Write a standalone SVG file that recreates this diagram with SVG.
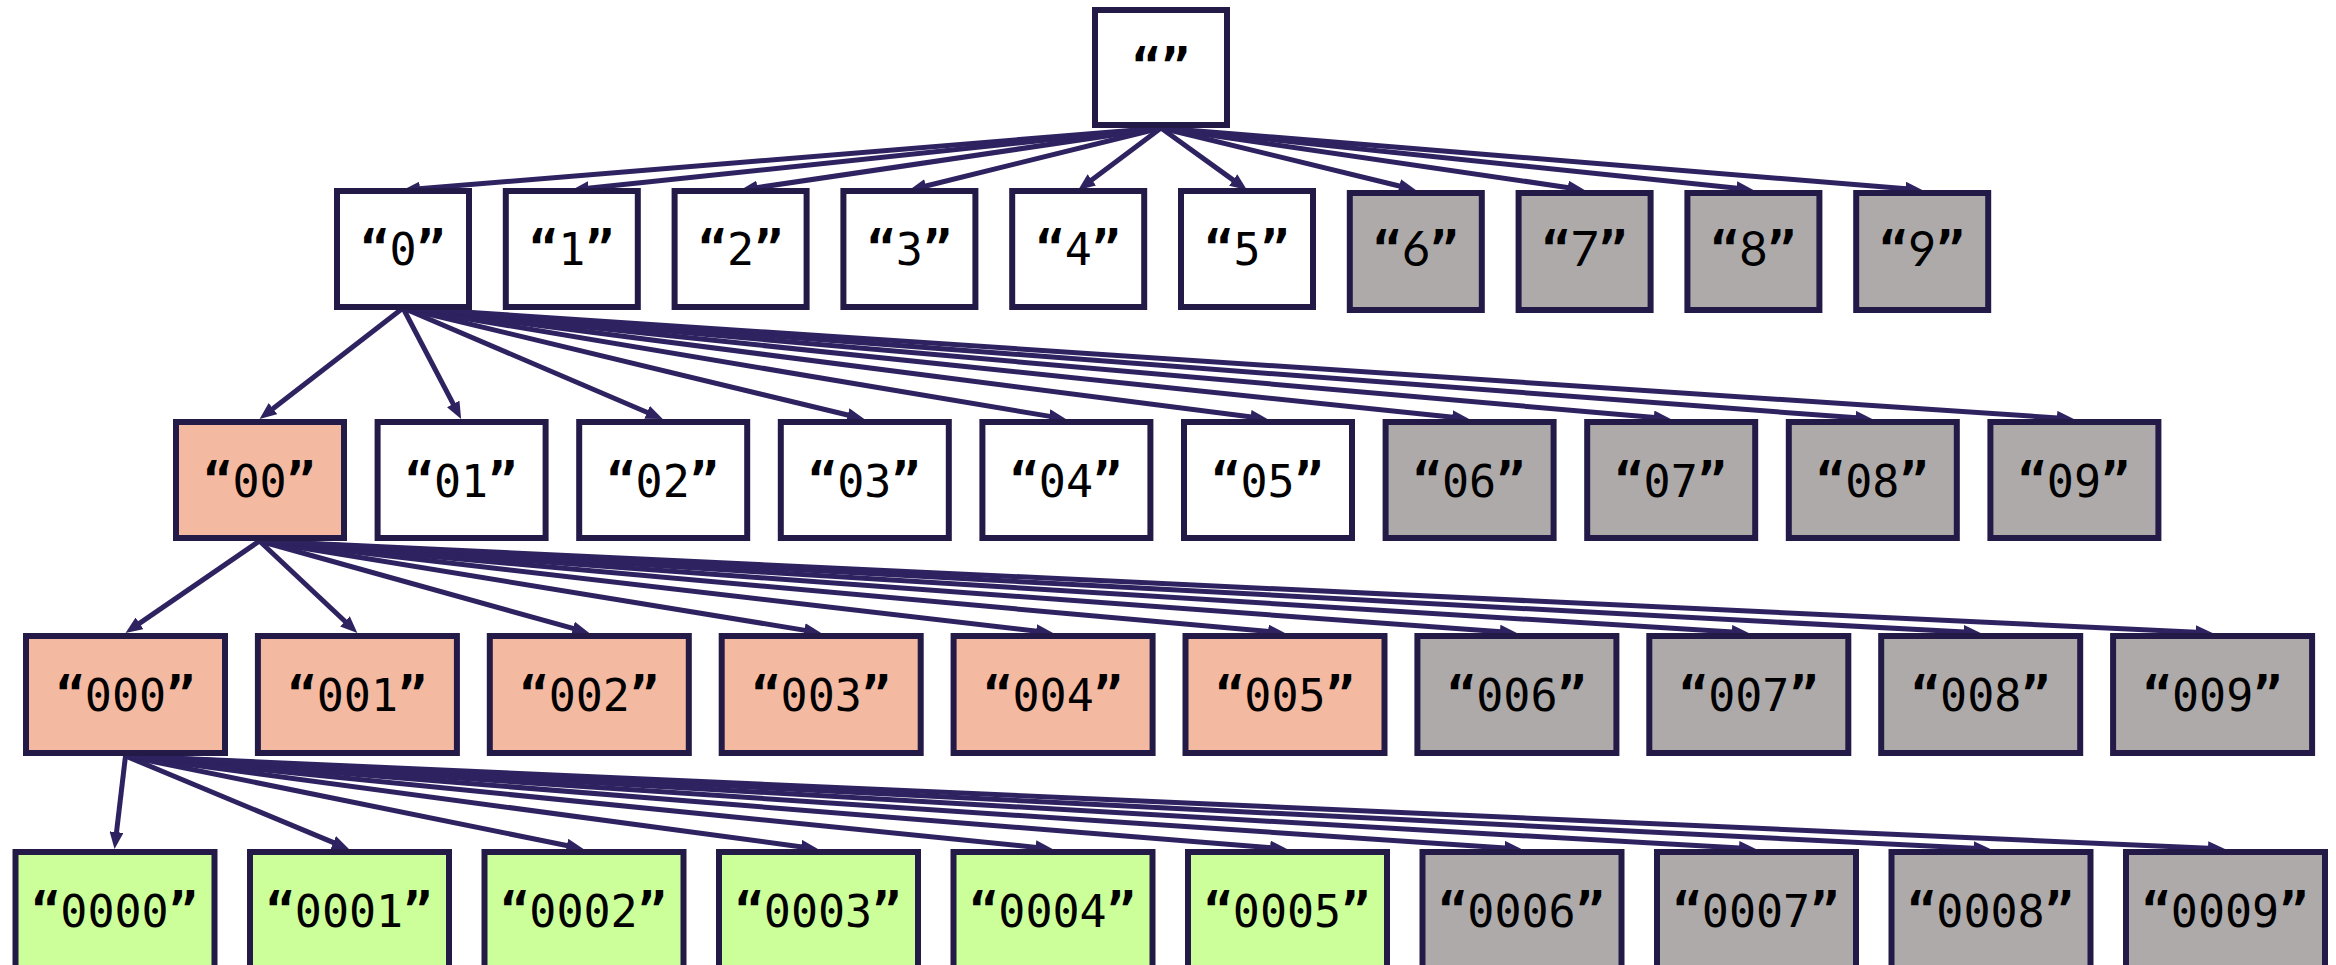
<svg xmlns="http://www.w3.org/2000/svg" width="2336" height="965" viewBox="0 0 2336 965">
<style>
.n{stroke:#231A47;stroke-width:6}
.w{fill:#FFFFFF}.s{fill:#F4B9A1}.g{fill:#AEAAAA}.v{fill:#CCFF99}
text{font-family:"DejaVu Sans Mono","Liberation Mono",monospace;font-size:45px;fill:#000;text-anchor:middle}
text.p{font-family:Lato,"Open Sans","Liberation Sans",sans-serif;font-size:48px}
tspan.q{font-family:"DejaVu Sans Mono","Liberation Mono",monospace;font-weight:700;font-size:48px}
#edges line{stroke:#2E2360;stroke-width:5;marker-end:url(#ah)}
</style>
<defs>
<marker id="ah" viewBox="0 0 17 14" refX="1" refY="7" markerWidth="17" markerHeight="14" markerUnits="userSpaceOnUse" orient="auto">
<path d="M0,0 L17,7 L0,14 z" fill="#2E2360"/>
</marker>
</defs>
<rect width="2336" height="965" fill="#FFFFFF"/>
<g id="edges">
<line x1="1161" y1="128" x2="418.9" y2="188.7"/>
<line x1="1161" y1="128" x2="587.7" y2="188.3"/>
<line x1="1161" y1="128" x2="756.4" y2="187.7"/>
<line x1="1161" y1="128" x2="924.9" y2="186.2"/>
<line x1="1161" y1="128" x2="1091.0" y2="180.4"/>
<line x1="1161" y1="128" x2="1234.0" y2="180.6"/>
<line x1="1161" y1="128" x2="1400.3" y2="186.2"/>
<line x1="1161" y1="128" x2="1568.8" y2="187.7"/>
<line x1="1161" y1="128" x2="1737.5" y2="188.3"/>
<line x1="1161" y1="128" x2="1906.3" y2="188.7"/>
<line x1="403" y1="308" x2="272.2" y2="409.2"/>
<line x1="403" y1="308" x2="453.7" y2="404.8"/>
<line x1="403" y1="308" x2="648.0" y2="412.7"/>
<line x1="403" y1="308" x2="848.7" y2="415.3"/>
<line x1="403" y1="308" x2="1050.1" y2="416.4"/>
<line x1="403" y1="308" x2="1251.6" y2="417.0"/>
<line x1="403" y1="308" x2="1453.2" y2="417.3"/>
<line x1="403" y1="308" x2="1654.8" y2="417.6"/>
<line x1="403" y1="308" x2="1856.3" y2="417.8"/>
<line x1="403" y1="308" x2="2057.9" y2="417.9"/>
<line x1="259.5" y1="541" x2="138.7" y2="623.9"/>
<line x1="259.5" y1="541" x2="345.7" y2="622.0"/>
<line x1="259.5" y1="541" x2="573.9" y2="628.7"/>
<line x1="259.5" y1="541" x2="805.4" y2="630.4"/>
<line x1="259.5" y1="541" x2="1037.2" y2="631.2"/>
<line x1="259.5" y1="541" x2="1269.1" y2="631.6"/>
<line x1="259.5" y1="541" x2="1500.9" y2="631.8"/>
<line x1="259.5" y1="541" x2="1732.8" y2="632.0"/>
<line x1="259.5" y1="541" x2="1964.7" y2="632.1"/>
<line x1="259.5" y1="541" x2="2196.6" y2="632.2"/>
<line x1="125.5" y1="756" x2="116.4" y2="833.1"/>
<line x1="125.5" y1="756" x2="334.2" y2="842.9"/>
<line x1="125.5" y1="756" x2="567.8" y2="845.8"/>
<line x1="125.5" y1="756" x2="802.1" y2="846.9"/>
<line x1="125.5" y1="756" x2="1036.6" y2="847.4"/>
<line x1="125.5" y1="756" x2="1271.1" y2="847.7"/>
<line x1="125.5" y1="756" x2="1505.5" y2="847.9"/>
<line x1="125.5" y1="756" x2="1740.0" y2="848.1"/>
<line x1="125.5" y1="756" x2="1974.5" y2="848.2"/>
<line x1="125.5" y1="756" x2="2209.0" y2="848.3"/>
</g>
<g id="n-root"><rect class="n w" x="1095" y="10" width="132" height="115"/><text x="1161" y="83"><tspan class="q">“”</tspan></text></g>
<g id="n-0"><rect class="n w" x="337" y="191" width="132" height="116"/><text x="403" y="265"><tspan class="q">“</tspan>0<tspan class="q">”</tspan></text></g>
<g id="n-1"><rect class="n w" x="505.8" y="191" width="132" height="116"/><text x="571.8" y="265"><tspan class="q">“</tspan>1<tspan class="q">”</tspan></text></g>
<g id="n-2"><rect class="n w" x="674.6" y="191" width="132" height="116"/><text x="740.6" y="265"><tspan class="q">“</tspan>2<tspan class="q">”</tspan></text></g>
<g id="n-3"><rect class="n w" x="843.4" y="191" width="132" height="116"/><text x="909.4" y="265"><tspan class="q">“</tspan>3<tspan class="q">”</tspan></text></g>
<g id="n-4"><rect class="n w" x="1012.2" y="191" width="132" height="116"/><text x="1078.2" y="265"><tspan class="q">“</tspan>4<tspan class="q">”</tspan></text></g>
<g id="n-5"><rect class="n w" x="1181" y="191" width="132" height="116"/><text x="1247" y="265"><tspan class="q">“</tspan>5<tspan class="q">”</tspan></text></g>
<g id="n-6"><rect class="n g" x="1349.8" y="193" width="132" height="117"/><text class="p" x="1415.8" y="266"><tspan class="q">“</tspan>6<tspan class="q">”</tspan></text></g>
<g id="n-7"><rect class="n g" x="1518.6" y="193" width="132" height="117"/><text class="p" x="1584.6" y="266"><tspan class="q">“</tspan>7<tspan class="q">”</tspan></text></g>
<g id="n-8"><rect class="n g" x="1687.4" y="193" width="132" height="117"/><text class="p" x="1753.4" y="266"><tspan class="q">“</tspan>8<tspan class="q">”</tspan></text></g>
<g id="n-9"><rect class="n g" x="1856.2" y="193" width="132" height="117"/><text class="p" x="1922.2" y="266"><tspan class="q">“</tspan>9<tspan class="q">”</tspan></text></g>
<g id="n-00"><rect class="n s" x="176" y="422" width="168" height="116"/><text x="259.5" y="497"><tspan class="q">“</tspan>00<tspan class="q">”</tspan></text></g>
<g id="n-01"><rect class="n w" x="377.6" y="422" width="168" height="116"/><text x="461.1" y="497"><tspan class="q">“</tspan>01<tspan class="q">”</tspan></text></g>
<g id="n-02"><rect class="n w" x="579.2" y="422" width="168" height="116"/><text x="662.7" y="497"><tspan class="q">“</tspan>02<tspan class="q">”</tspan></text></g>
<g id="n-03"><rect class="n w" x="780.8" y="422" width="168" height="116"/><text x="864.3" y="497"><tspan class="q">“</tspan>03<tspan class="q">”</tspan></text></g>
<g id="n-04"><rect class="n w" x="982.4" y="422" width="168" height="116"/><text x="1065.9" y="497"><tspan class="q">“</tspan>04<tspan class="q">”</tspan></text></g>
<g id="n-05"><rect class="n w" x="1184" y="422" width="168" height="116"/><text x="1267.5" y="497"><tspan class="q">“</tspan>05<tspan class="q">”</tspan></text></g>
<g id="n-06"><rect class="n g" x="1385.6" y="422" width="168" height="116"/><text x="1469.1" y="497"><tspan class="q">“</tspan>06<tspan class="q">”</tspan></text></g>
<g id="n-07"><rect class="n g" x="1587.2" y="422" width="168" height="116"/><text x="1670.7" y="497"><tspan class="q">“</tspan>07<tspan class="q">”</tspan></text></g>
<g id="n-08"><rect class="n g" x="1788.8" y="422" width="168" height="116"/><text x="1872.3" y="497"><tspan class="q">“</tspan>08<tspan class="q">”</tspan></text></g>
<g id="n-09"><rect class="n g" x="1990.4" y="422" width="168" height="116"/><text x="2073.9" y="497"><tspan class="q">“</tspan>09<tspan class="q">”</tspan></text></g>
<g id="n-000"><rect class="n s" x="26" y="636" width="199" height="117"/><text x="125.5" y="711"><tspan class="q">“</tspan>000<tspan class="q">”</tspan></text></g>
<g id="n-001"><rect class="n s" x="257.9" y="636" width="199" height="117"/><text x="357.4" y="711"><tspan class="q">“</tspan>001<tspan class="q">”</tspan></text></g>
<g id="n-002"><rect class="n s" x="489.8" y="636" width="199" height="117"/><text x="589.3" y="711"><tspan class="q">“</tspan>002<tspan class="q">”</tspan></text></g>
<g id="n-003"><rect class="n s" x="721.7" y="636" width="199" height="117"/><text x="821.2" y="711"><tspan class="q">“</tspan>003<tspan class="q">”</tspan></text></g>
<g id="n-004"><rect class="n s" x="953.6" y="636" width="199" height="117"/><text x="1053.1" y="711"><tspan class="q">“</tspan>004<tspan class="q">”</tspan></text></g>
<g id="n-005"><rect class="n s" x="1185.5" y="636" width="199" height="117"/><text x="1285" y="711"><tspan class="q">“</tspan>005<tspan class="q">”</tspan></text></g>
<g id="n-006"><rect class="n g" x="1417.4" y="636" width="199" height="117"/><text x="1516.9" y="711"><tspan class="q">“</tspan>006<tspan class="q">”</tspan></text></g>
<g id="n-007"><rect class="n g" x="1649.3" y="636" width="199" height="117"/><text x="1748.8" y="711"><tspan class="q">“</tspan>007<tspan class="q">”</tspan></text></g>
<g id="n-008"><rect class="n g" x="1881.2" y="636" width="199" height="117"/><text x="1980.7" y="711"><tspan class="q">“</tspan>008<tspan class="q">”</tspan></text></g>
<g id="n-009"><rect class="n g" x="2113.1" y="636" width="199" height="117"/><text x="2212.6" y="711"><tspan class="q">“</tspan>009<tspan class="q">”</tspan></text></g>
<g id="n-0000"><rect class="n v" x="15.5" y="852" width="199" height="140"/><text x="114.5" y="927"><tspan class="q">“</tspan>0000<tspan class="q">”</tspan></text></g>
<g id="n-0001"><rect class="n v" x="250" y="852" width="199" height="140"/><text x="349" y="927"><tspan class="q">“</tspan>0001<tspan class="q">”</tspan></text></g>
<g id="n-0002"><rect class="n v" x="484.5" y="852" width="199" height="140"/><text x="583.5" y="927"><tspan class="q">“</tspan>0002<tspan class="q">”</tspan></text></g>
<g id="n-0003"><rect class="n v" x="719" y="852" width="199" height="140"/><text x="818" y="927"><tspan class="q">“</tspan>0003<tspan class="q">”</tspan></text></g>
<g id="n-0004"><rect class="n v" x="953.5" y="852" width="199" height="140"/><text x="1052.5" y="927"><tspan class="q">“</tspan>0004<tspan class="q">”</tspan></text></g>
<g id="n-0005"><rect class="n v" x="1188" y="852" width="199" height="140"/><text x="1287" y="927"><tspan class="q">“</tspan>0005<tspan class="q">”</tspan></text></g>
<g id="n-0006"><rect class="n g" x="1422.5" y="852" width="199" height="140"/><text x="1521.5" y="927"><tspan class="q">“</tspan>0006<tspan class="q">”</tspan></text></g>
<g id="n-0007"><rect class="n g" x="1657" y="852" width="199" height="140"/><text x="1756" y="927"><tspan class="q">“</tspan>0007<tspan class="q">”</tspan></text></g>
<g id="n-0008"><rect class="n g" x="1891.5" y="852" width="199" height="140"/><text x="1990.5" y="927"><tspan class="q">“</tspan>0008<tspan class="q">”</tspan></text></g>
<g id="n-0009"><rect class="n g" x="2126" y="852" width="199" height="140"/><text x="2225" y="927"><tspan class="q">“</tspan>0009<tspan class="q">”</tspan></text></g>
</svg>
